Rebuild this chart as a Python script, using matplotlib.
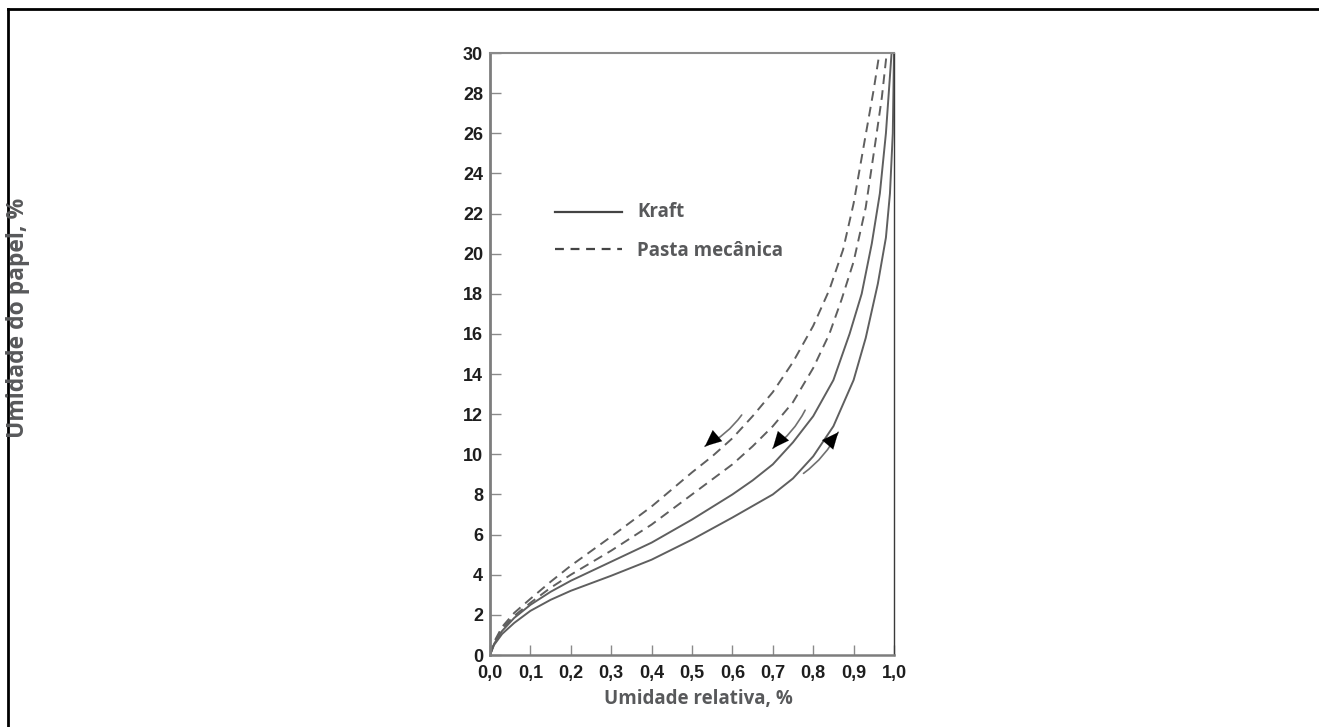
import matplotlib
matplotlib.use("Agg")
import matplotlib.pyplot as plt
from matplotlib.lines import Line2D

# ---- data ----
kraft_ads_x = [0.0, 0.01, 0.03, 0.06, 0.10, 0.15, 0.20, 0.30, 0.40, 0.50, 0.60, 0.70, 0.75, 0.80, 0.85, 0.90, 0.93, 0.96, 0.98, 0.99, 0.997, 1.0]
kraft_ads_y = [0.0, 0.5, 1.05, 1.6, 2.2, 2.75, 3.2, 3.95, 4.75, 5.75, 6.85, 8.0, 8.8, 9.9, 11.4, 13.7, 15.8, 18.5, 20.8, 23.0, 26.0, 30.0]

kraft_des_x = [0.0, 0.01, 0.03, 0.06, 0.10, 0.15, 0.20, 0.30, 0.40, 0.50, 0.60, 0.65, 0.70, 0.75, 0.80, 0.85, 0.89, 0.92, 0.945, 0.965, 0.98, 0.994]
kraft_des_y = [0.0, 0.55, 1.2, 1.85, 2.5, 3.15, 3.7, 4.65, 5.6, 6.75, 8.0, 8.7, 9.5, 10.6, 11.9, 13.7, 16.0, 18.0, 20.5, 23.0, 26.0, 30.0]

pasta_ads_x = [0.0, 0.01, 0.03, 0.06, 0.10, 0.15, 0.20, 0.30, 0.40, 0.50, 0.60, 0.65, 0.70, 0.75, 0.80, 0.84, 0.87, 0.90, 0.93, 0.955, 0.97, 0.982]
pasta_ads_y = [0.0, 0.6, 1.3, 1.95, 2.6, 3.35, 4.0, 5.2, 6.5, 8.0, 9.5, 10.4, 11.4, 12.6, 14.3, 16.0, 17.7, 19.6, 22.3, 25.7, 27.8, 30.0]

pasta_des_x = [0.0, 0.01, 0.03, 0.06, 0.10, 0.15, 0.20, 0.30, 0.40, 0.50, 0.55, 0.60, 0.65, 0.70, 0.75, 0.80, 0.84, 0.874, 0.90, 0.928, 0.95, 0.964]
pasta_des_y = [0.0, 0.65, 1.4, 2.1, 2.8, 3.65, 4.45, 5.9, 7.4, 9.1, 9.9, 10.8, 11.9, 13.1, 14.6, 16.4, 18.2, 20.2, 22.5, 25.7, 28.2, 30.0]

x_ticks = [0.0, 0.1, 0.2, 0.3, 0.4, 0.5, 0.6, 0.7, 0.8, 0.9, 1.0]
x_ticklabels = ["0,0", "0,1", "0,2", "0,3", "0,4", "0,5", "0,6", "0,7", "0,8", "0,9", "1,0"]
y_ticks = list(range(0, 31, 2))
y_ticklabels = [str(v) for v in y_ticks]

legend_labels = ["Kraft", "Pasta mecânica"]
x_label = "Umidade relativa, %"
y_label = "Umidade do papel, %"

# arrows: (tail, tip, curvature)
arrows = [((0.623, 11.96), (0.532, 10.4), -0.12),
          ((0.780, 12.2), (0.700, 10.3), -0.12),
          ((0.776, 9.05), (0.862, 11.1), 0.12)]

# ---- figure ----
W, H = 1319, 727
fig = plt.figure(figsize=(W / 100, H / 100), dpi=100)
fig.patch.set_facecolor("white")

ax = fig.add_axes([490 / W, 1 - 655 / H, 404 / W, 602 / H])
ax.set_facecolor("white")

line_col = "#5f5f5f"
lw = 1.4
dash = (5, 3.2)
ax.plot(kraft_ads_x, kraft_ads_y, color=line_col, lw=lw, solid_joinstyle="round")
ax.plot(kraft_des_x, kraft_des_y, color=line_col, lw=lw, solid_joinstyle="round")
ax.plot(pasta_ads_x, pasta_ads_y, color=line_col, lw=lw, ls=(0, dash))
ax.plot(pasta_des_x, pasta_des_y, color=line_col, lw=lw, ls=(0, dash))

ax.set_xlim(0, 1.0)
ax.set_ylim(0, 30)
ax.set_xticks(x_ticks)
ax.set_xticklabels(x_ticklabels)
ax.set_yticks(y_ticks)
ax.set_yticklabels(y_ticklabels)

for lab in ax.get_xticklabels() + ax.get_yticklabels():
    lab.set_fontfamily("Liberation Sans")
    lab.set_fontweight("bold")
    lab.set_fontsize(13)
    lab.set_color("#1e1e1e")

ax.tick_params(axis="y", direction="in", length=8, width=1.0, color="#8a8a8a", pad=5)
ax.tick_params(axis="x", direction="in", length=7, width=1.0, color="#8a8a8a", pad=7)
for side, col, w in [("left", "#7d7d7d", 2.0), ("bottom", "#7d7d7d", 1.8), ("top", "#8a8a8a", 1.5), ("right", "#3a3a3a", 1.0)]:
    ax.spines[side].set_color(col)
    ax.spines[side].set_linewidth(w)

# arrows
for (tail, tip, rad) in arrows:
    ax.annotate("", xy=tip, xytext=tail,
                arrowprops=dict(arrowstyle="-", color="#707070", lw=1.2,
                                connectionstyle=f"arc3,rad={rad}", shrinkA=0, shrinkB=0))
    hx = tip[0] + (tail[0] - tip[0]) * 0.18
    hy = tip[1] + (tail[1] - tip[1]) * 0.18
    ax.annotate("", xy=tip, xytext=(hx, hy),
                arrowprops=dict(arrowstyle="-|>,head_length=0.9,head_width=0.4", color="black", lw=0.1,
                                shrinkA=0, shrinkB=0, mutation_scale=13))

# legend (manual)
lab_font = dict(family="Open Sans", weight="bold", color="#58595b")
fig.add_artist(Line2D([555 / W, 622 / W], [1 - 212 / H, 1 - 212 / H], color="#444444", lw=1.6))
fig.add_artist(Line2D([555 / W, 622 / W], [1 - 249 / H, 1 - 249 / H], color="#444444", lw=1.6, ls=(0, (4, 3))))
fig.text(637 / W, 1 - 212 / H, legend_labels[0], fontsize=13.5, va="center", ha="left", **lab_font)
fig.text(637 / W, 1 - 251 / H, legend_labels[1], fontsize=13.5, va="center", ha="left", **lab_font)

# axis labels
fig.text(698 / W, 1 - 699 / H, x_label, fontsize=13.5, ha="center", va="center", **lab_font)
fig.text(18 / W, 1 - 318 / H, y_label, fontsize=16.5, ha="center", va="center", rotation=90, **lab_font)

# outer frame
fig.add_artist(Line2D([8 / W, 1.0], [1 - 9 / H, 1 - 9 / H], color="black", lw=2.0))
fig.add_artist(Line2D([8 / W, 8 / W], [0, 1 - 9 / H], color="black", lw=2.0))

fig.savefig("out.png", dpi=100, facecolor="white")
